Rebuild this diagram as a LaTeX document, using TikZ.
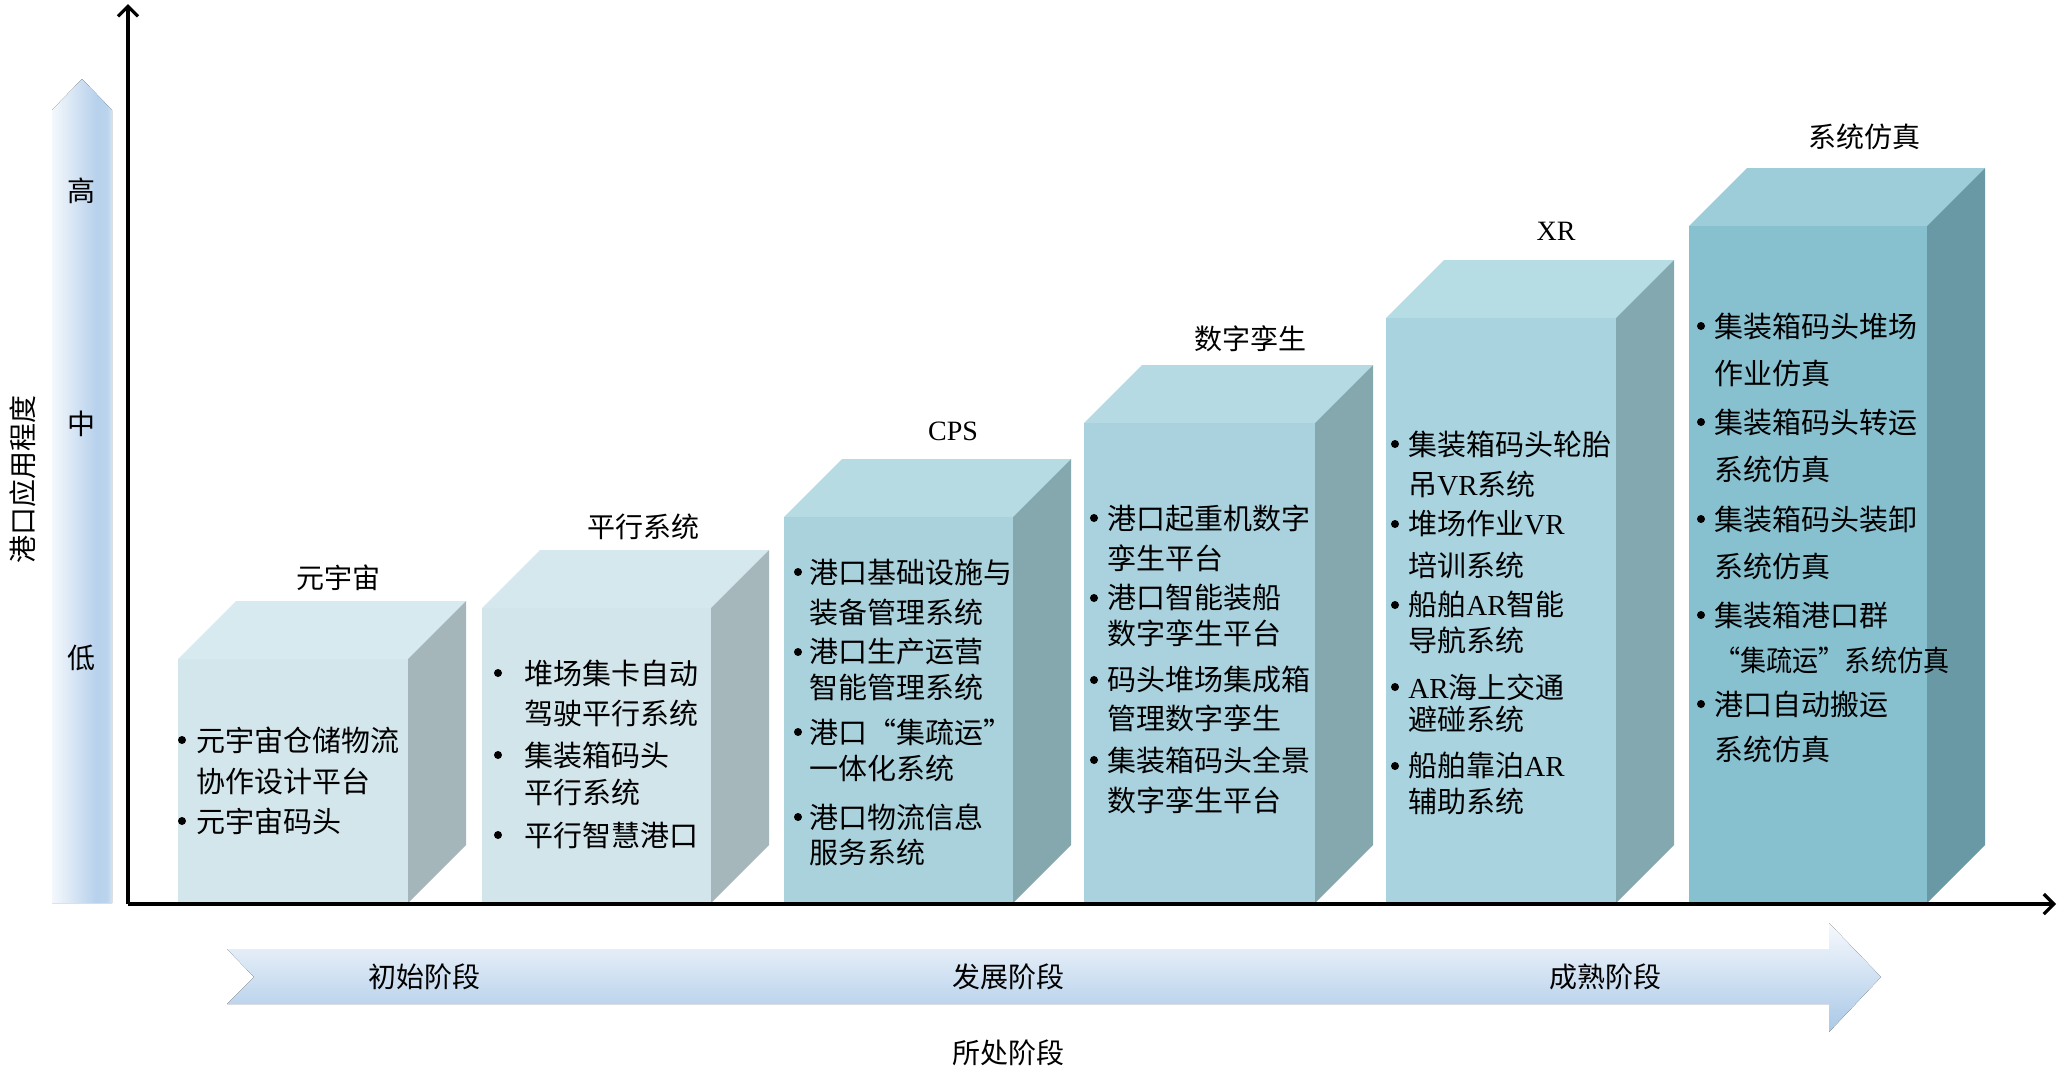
\documentclass[tikz,border=0pt]{standalone}
\usepackage{fontspec}
\setmainfont{Liberation Serif}
\newfontfamily\cjk{Noto Sans CJK SC}
\usetikzlibrary{arrows.meta}
\definecolor{c1f}{HTML}{D3E6EC}\definecolor{c1t}{HTML}{D7EAF0}\definecolor{c1s}{HTML}{A5B6BB}
\definecolor{c2f}{HTML}{D2E5EB}\definecolor{c2t}{HTML}{D5E8EE}\definecolor{c2s}{HTML}{A6B7BC}
\definecolor{c3f}{HTML}{AAD2DD}\definecolor{c3t}{HTML}{B6DBE3}\definecolor{c3s}{HTML}{85A7AE}
\definecolor{c4f}{HTML}{A9D2DE}\definecolor{c4t}{HTML}{B5DAE3}\definecolor{c4s}{HTML}{85A8AF}
\definecolor{c5f}{HTML}{A8D3DF}\definecolor{c5t}{HTML}{B6DCE4}\definecolor{c5s}{HTML}{83A8AF}
\definecolor{c6f}{HTML}{87C0CF}\definecolor{c6t}{HTML}{9CCDD8}\definecolor{c6s}{HTML}{6899A4}
\definecolor{lvA}{HTML}{F4F8FC}\definecolor{lvB}{HTML}{B7D1EC}\definecolor{lvC}{HTML}{BBD4ED}\definecolor{lvD}{HTML}{D3E3F3}
\definecolor{haTop}{HTML}{F6F9FD}\definecolor{haBot}{HTML}{A9C8E7}
\pgfdeclarehorizontalshading{lvshade}{100bp}{color(0bp)=(lvA); color(25bp)=(lvA); color(62bp)=(lvB); color(71bp)=(lvC); color(75bp)=(lvD); color(100bp)=(lvD)}
\newcommand\cube[7]{%
  \fill[#6] (#2,#4) -- (#2+58,#4-58) -- (#3+58,#4-58) -- (#3,#4) -- cycle;
  \fill[#5] (#2,#4) rectangle (#3,903);
  \fill[#7] (#3,#4) -- (#3+58,#4-58) -- (#3+58,903-58) -- (#3,903) -- cycle;
  \coordinate (#1) at (#2,#4);}
\newcommand\tl[4]{\node[bt] (#1) at (#2,#3) {#4};}
\newcommand\bd[3]{\node[dot] (#1) at (#2,#3) {};}
\begin{document}
\begin{tikzpicture}[x=0.5pt,y=-0.5pt,
  lbl/.style={font=\cjk\fontsize{14}{16}\selectfont, inner sep=0},
  ltn/.style={font=\fontsize{14}{16}\selectfont, inner sep=0},
  bt/.style={font=\cjk\fontsize{14.5}{17}\selectfont, inner sep=0, anchor=west},
  dot/.style={circle, fill=black, inner sep=0, minimum size=4pt},
  axisline/.style={line width=1.6pt, -{Straight Barb[length=5pt,width=10pt,line width=1.6pt]}}]
\useasboundingbox (0,0) rectangle (2058,1078);
\fill[white] (0,0) rectangle (2058,1078);

% left gradient arrow
\fill[shading=lvshade] (52,903) -- (52,110) -- (82,79) -- (112,110) -- (112,903) -- cycle;
\node[lbl] (hi) at (81,191) {高};
\node[lbl] (mid) at (81,424) {中};
\node[lbl] (lo) at (81,658) {低};
\node[lbl, rotate=90] (ylab) at (23,479) {港口应用程度};

% cubes
\cube{k1}{178}{408}{659}{c1f}{c1t}{c1s}
\cube{k2}{482}{711}{608}{c2f}{c2t}{c2s}
\cube{k3}{784}{1013}{517}{c3f}{c3t}{c3s}
\cube{k4}{1084}{1315}{423}{c4f}{c4t}{c4s}
\cube{k5}{1386}{1616}{318}{c5f}{c5t}{c5s}
\cube{k6}{1689}{1927}{226}{c6f}{c6t}{c6s}

% headings
\node[lbl] (h1) at (338,578) {元宇宙};
\node[lbl] (h2) at (643,527) {平行系统};
\node[ltn] (h3) at (953,431) {CPS};
\node[lbl] (h4) at (1250,339) {数字孪生};
\node[ltn] (h5) at (1556,231) {XR};
\node[lbl] (h6) at (1864,137) {系统仿真};

% box 1
\bd{d1a}{182}{740}\bd{d1b}{182}{821}
\tl{t1a}{196}{740}{元宇宙仓储物流}
\tl{t1b}{196}{781}{协作设计平台}
\tl{t1c}{196}{821}{元宇宙码头}
% box 2
\bd{d2a}{498}{673}\bd{d2b}{498}{755}\bd{d2c}{498}{835}
\tl{t2a}{524}{673}{堆场集卡自动}
\tl{t2b}{524}{713}{驾驶平行系统}
\tl{t2c}{524}{755}{集装箱码头}
\tl{t2d}{524}{792}{平行系统}
\tl{t2e}{524}{835}{平行智慧港口}
% box 3
\bd{d3a}{798}{572}\bd{d3b}{798}{652}\bd{d3c}{798}{732}\bd{d3d}{798}{817}
\tl{t3a}{809}{572}{港口基础设施与}
\tl{t3b}{809}{612}{装备管理系统}
\tl{t3c}{809}{652}{港口生产运营}
\tl{t3d}{809}{687}{智能管理系统}
\tl{t3e}{809}{732}{港口“集疏运”}
\tl{t3f}{809}{768}{一体化系统}
\tl{t3g}{809}{817}{港口物流信息}
\tl{t3h}{809}{852}{服务系统}
% box 4
\bd{d4a}{1094}{518}\bd{d4b}{1094}{598}\bd{d4c}{1094}{680}\bd{d4d}{1094}{760}
\tl{t4a}{1107}{518}{港口起重机数字}
\tl{t4b}{1107}{558}{孪生平台}
\tl{t4c}{1107}{598}{港口智能装船}
\tl{t4d}{1107}{633}{数字孪生平台}
\tl{t4e}{1107}{680}{码头堆场集成箱}
\tl{t4f}{1107}{718}{管理数字孪生}
\tl{t4g}{1107}{760}{集装箱码头全景}
\tl{t4h}{1107}{800}{数字孪生平台}
% box 5
\bd{d5a}{1395}{444}\bd{d5b}{1395}{524}\bd{d5c}{1395}{605}\bd{d5d}{1395}{687}\bd{d5e}{1395}{766}
\tl{t5a}{1408}{444}{集装箱码头轮胎}
\tl{t5b}{1408}{484}{吊{\rmfamily VR}系统}
\tl{t5c}{1408}{524}{堆场作业{\rmfamily VR}}
\tl{t5d}{1408}{565}{培训系统}
\tl{t5e}{1408}{605}{船舶{\rmfamily AR}智能}
\tl{t5f}{1408}{640}{导航系统}
\tl{t5g}{1408}{687}{{\rmfamily AR}海上交通}
\tl{t5h}{1408}{719}{避碰系统}
\tl{t5i}{1408}{766}{船舶靠泊{\rmfamily AR}}
\tl{t5j}{1408}{801}{辅助系统}
% box 6
\bd{d6a}{1701}{326}\bd{d6b}{1701}{422}\bd{d6c}{1701}{519}\bd{d6d}{1701}{615}\bd{d6e}{1701}{704}
\tl{t6a}{1714}{326}{集装箱码头堆场}
\tl{t6b}{1714}{373}{作业仿真}
\tl{t6c}{1714}{422}{集装箱码头转运}
\tl{t6d}{1714}{469}{系统仿真}
\tl{t6e}{1714}{519}{集装箱码头装卸}
\tl{t6f}{1714}{566}{系统仿真}
\tl{t6g}{1714}{615}{集装箱港口群}
\tl{t6h}{1714}{660}{\scalebox{0.9}[1]{“集疏运”系统仿真}}
\tl{t6i}{1714}{704}{港口自动搬运}
\tl{t6j}{1714}{749}{系统仿真}

% axes
\coordinate (O) at (128,904);
\coordinate (ytop) at (128,4);
\coordinate (xend) at (2056,904);
\draw[axisline] (O) -- (ytop);
\draw[axisline] (O) -- (xend);

% bottom stage arrow
\fill[top color=haTop, bottom color=haBot] (227,949) -- (1829,949) -- (1829,923) -- (1881,977) -- (1829,1032) -- (1829,1004) -- (227,1004) -- (254,977) -- cycle;
\node[lbl] (s1) at (424,977) {初始阶段};
\node[lbl] (s2) at (1008,977) {发展阶段};
\node[lbl] (s3) at (1605,977) {成熟阶段};
\node[lbl] (xlab) at (1008,1053) {所处阶段};
\end{tikzpicture}
\end{document}
